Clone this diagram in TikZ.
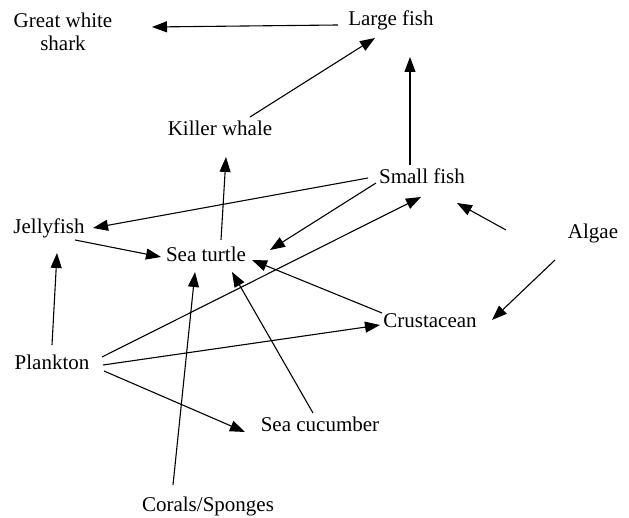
\documentclass[tikz,border=0pt]{standalone}
\usepackage{fontspec}
\setmainfont{Liberation Serif}
\usetikzlibrary{arrows.meta,calc}
\begin{document}
\begin{tikzpicture}[x=1pt,y=-1pt,
  lbl/.style={inner sep=0pt,font=\fontsize{21}{23}\selectfont,text height=16pt,text depth=4pt},
  arr/.style={line width=1.1pt,-{Triangle[length=15pt,width=11pt]}}]
\useasboundingbox (0,0) rectangle (629,518);
\node[inner sep=0pt,font=\fontsize{21}{23}\selectfont,align=center] (gws) at (63,31.5) {Great white\\shark};
\node[lbl] (lf) at (391,20) {Large fish};
\node[lbl] (kw) at (220,130) {Killer whale};
\node[lbl] (sf) at (422,178) {Small fish};
\node[lbl] (jf) at (49,228) {Jellyfish};
\node[lbl] (st) at (206,256) {Sea turtle};
\node[lbl] (al) at (593,233) {Algae};
\node[lbl] (cr) at (430,322) {Crustacean};
\node[lbl] (pl) at (52,364) {Plankton};
\node[lbl] (sc) at (320,425) {Sea cucumber};
\node[lbl] (cs) at (208,505) {Corals/Sponges};
% connectors
\draw[arr] ($(lf)+(-53,5)$) -- ($(gws)+(89,-4.5)$);
\draw[arr] ($(kw)+(30,-13)$) -- ($(lf)+(-16,18)$);
\draw[arr] ($(sf)+(-12,-13)$) -- ($(lf)+(19,37)$);
\draw[arr] ($(st)+(15,-16)$) -- ($(kw)+(6,27)$);
\draw[arr] ($(sf)+(-54,0)$) -- ($(jf)+(44,0)$);
\draw[arr] ($(sf)+(-46,5)$) -- ($(st)+(64,-6)$);
\draw[arr] ($(pl)+(50,-7)$) -- ($(sf)+(-1,19)$);
\draw[arr] ($(al)+(-87,-3)$) -- ($(sf)+(35,25)$);
\draw[arr] ($(al)+(-38,27)$) -- ($(cr)+(62,-2)$);
\draw[arr] ($(jf)+(26,12)$) -- ($(st)+(-45,1)$);
\draw[arr] ($(cr)+(-48,-9)$) -- ($(st)+(46,4)$);
\draw[arr] ($(pl)+(0,-19)$) -- ($(jf)+(8,25)$);
\draw[arr] ($(cs)+(-35,-20)$) -- ($(st)+(-11,16)$);
\draw[arr] ($(sc)+(-7,-12)$) -- ($(st)+(26,16)$);
\draw[arr] ($(pl)+(51,1)$) -- ($(cr)+(-50,3)$);
\draw[arr] ($(pl)+(52,7)$) -- ($(sc)+(-75,7)$);
\end{tikzpicture}
\end{document}
